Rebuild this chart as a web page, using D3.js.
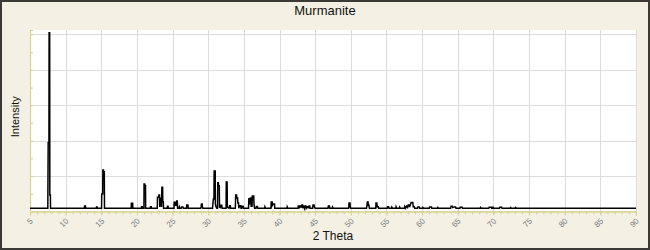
<!DOCTYPE html>
<html>
<head>
<meta charset="utf-8">
<script src="https://cdn.jsdelivr.net/npm/d3@7"></script>
<style>
  body { margin: 0; background: #fff; }
  svg { display: block; }
</style>
</head>
<body>
<div id="chart"></div>
<script>
// chart texts
const chartTitle = 'Murmanite';
const xTitle = '2 Theta';
const yTitle = 'Intensity';

// axis ticks
const xMajorTicks = [5, 10, 15, 20, 25, 30, 35, 40, 45, 50, 55, 60, 65, 70, 75, 80, 85, 90];
const yMajorTicks = [0, 20, 40, 60, 80, 100];
const yMinorTicks = [10, 30, 50, 70, 90];

// diffraction pattern: [2θ, intensity]
const pattern = [
  [5, 1.8], [7.5, 1.8], [7.55, 39], [7.66, 39], [7.68, 101], [7.76, 101], [7.78, 9.3], [7.86, 9.3], [7.88, 1.8],
  [12.62, 1.8], [12.66, 3.1], [12.78, 3.1], [12.8, 1.8],
  [14.3, 1.8], [14.33, 2.5], [14.42, 2.5], [14.44, 1.8],
  [15.04, 1.8], [15.06, 9.9], [15.2, 9.9], [15.22, 23.4], [15.3, 23.4], [15.32, 22.5], [15.42, 22.5], [15.45, 1.8],
  [19.2, 1.8], [19.22, 4.6], [19.4, 4.6], [19.42, 1.8],
  [20.62, 1.8], [20.65, 2.7], [20.75, 2.7], [20.78, 1.8],
  [20.98, 1.8], [21.0, 15.5], [21.1, 15.5], [21.12, 14.6], [21.2, 14.6], [21.22, 1.8],
  [21.85, 1.8], [21.9, 2.7], [22.0, 2.7], [22.03, 1.8],
  [22.85, 1.8], [22.88, 8], [23.05, 8], [23.08, 9.3], [23.17, 9.3], [23.2, 2.5], [23.3, 7.5], [23.38, 7.5], [23.45, 2.5],
  [23.5, 13.7], [23.6, 13.7], [23.63, 5.5], [23.7, 5.5], [23.73, 1.8],
  [24.25, 1.8], [24.28, 2.9], [24.36, 2.9], [24.38, 1.8],
  [25.2, 1.8], [25.22, 5.2], [25.38, 5.2], [25.4, 3.5], [25.5, 3.5], [25.58, 5.9], [25.66, 5.9], [25.7, 1.8],
  [25.9, 1.8], [25.95, 2.5], [26.0, 1.8], [26.2, 1.8], [26.25, 2.6], [26.45, 2.6], [26.5, 1.8],
  [26.95, 1.8], [26.98, 3.7], [27.15, 3.7], [27.18, 1.8],
  [28.95, 1.8], [29.0, 2.6], [29.05, 4.2], [29.15, 4.2], [29.18, 2.5], [29.25, 1.8],
  [30.6, 1.8], [30.65, 4.2], [30.72, 7.1], [30.8, 7.1], [30.83, 22.9], [30.98, 22.9], [31.0, 4.2], [31.1, 2.5], [31.2, 1.8],
  [31.3, 1.8], [31.34, 16.3], [31.42, 16.3], [31.45, 14.6], [31.55, 14.6], [31.58, 2.5], [31.7, 2.2], [31.78, 3.5], [31.9, 3.5], [31.95, 1.8],
  [32.5, 1.8], [32.53, 16.7], [32.65, 16.7], [32.68, 2.5], [32.9, 1.8], [33.0, 3.3], [33.1, 3.3], [33.15, 1.8],
  [33.8, 1.8], [33.85, 9.3], [33.98, 9.3], [34.0, 7.6], [34.12, 7.6], [34.15, 4.8], [34.25, 4.8], [34.28, 1.8],
  [34.4, 3.2], [34.55, 3.2], [34.6, 1.8], [34.7, 1.8], [34.75, 3], [34.9, 3], [34.95, 1.8],
  [35.65, 1.8], [35.7, 7.2], [35.82, 7.2], [35.85, 4], [35.9, 7.6], [35.98, 7.6], [36.02, 3], [36.15, 3], [36.18, 8.8], [36.38, 8.8], [36.42, 4.2], [36.5, 1.8],
  [36.7, 1.8], [36.75, 2.8], [36.9, 2.8], [36.95, 1.8],
  [37.9, 1.8], [37.95, 2.7], [38.05, 1.8],
  [38.8, 1.8], [38.83, 5.4], [38.98, 5.4], [39.0, 3.5], [39.1, 4.2], [39.3, 4.2], [39.33, 1.8],
  [41.05, 1.8], [41.08, 2.6], [41.16, 1.8],
  [42.6, 1.8], [42.63, 3.1], [42.75, 3.1], [42.78, 1.8], [42.92, 3.1], [43.0, 3.1], [43.05, 2.2], [43.12, 3.7], [43.22, 3.7], [43.25, 1.8],
  [43.35, 3.1], [43.45, 3.1], [43.5, 1.8], [43.62, 3.1], [43.72, 3.1], [43.75, 1.8], [43.9, 2.7], [44.0, 2.7], [44.05, 1.8], [44.14, 3.1], [44.24, 3.1], [44.28, 1.8],
  [44.65, 1.8], [44.7, 3.7], [44.85, 3.7], [44.9, 2.5], [45.0, 1.8],
  [46.8, 1.8], [46.85, 3.1], [47.0, 3.1], [47.05, 1.8], [47.4, 1.8], [47.44, 2.5], [47.52, 1.8],
  [49.7, 1.8], [49.75, 4.8], [49.88, 4.8], [49.92, 2.5], [50.0, 1.8],
  [52.2, 1.8], [52.25, 3.2], [52.32, 5.4], [52.42, 5.4], [52.45, 3.5], [52.55, 3.5], [52.6, 1.8],
  [53.5, 1.8], [53.53, 4.8], [53.65, 4.8], [53.7, 2.7], [53.85, 2.7], [53.9, 1.8],
  [55.1, 1.8], [55.15, 2.7], [55.3, 2.7], [55.35, 1.8], [55.7, 1.8], [55.75, 2.5], [55.85, 1.8],
  [56.3, 1.8], [56.35, 2.7], [56.45, 1.8], [56.8, 1.8], [56.85, 2.5], [56.95, 1.8],
  [57.5, 1.8], [57.55, 2.7], [57.65, 1.8], [57.8, 3.1], [57.9, 3.1], [57.95, 1.8], [58.05, 3.7], [58.2, 3.7], [58.25, 2.5],
  [58.45, 5.1], [58.7, 5.1], [58.75, 2.7], [58.9, 2.7], [58.95, 1.8],
  [59.35, 1.8], [59.4, 2.6], [59.6, 2.6], [59.65, 1.8], [60.05, 1.8], [60.1, 2.3], [60.2, 1.8],
  [61.0, 1.8], [61.05, 2.5], [61.3, 2.5], [61.35, 1.8], [62.15, 1.8], [62.2, 2.3], [62.3, 1.8],
  [64.0, 1.8], [64.05, 3.0], [64.25, 3.0], [64.3, 2.2], [64.55, 2.6], [64.7, 2.6], [64.75, 1.8],
  [65.3, 1.8], [65.35, 2.4], [65.6, 2.4], [65.65, 1.8],
  [68.15, 1.8], [68.2, 2.3], [68.3, 1.8],
  [69.35, 1.8], [69.4, 2.4], [69.7, 2.4], [69.75, 1.8], [69.9, 1.8], [69.95, 2.4], [70.05, 1.8],
  [70.85, 1.8], [70.9, 2.4], [71.15, 2.4], [71.2, 1.8],
  [72.35, 1.8], [72.4, 2.3], [72.55, 1.8], [73.05, 1.8], [73.1, 2.3], [73.25, 1.8],
  [90, 1.8]
];

const width = 650, height = 250;
const plot = { left: 30, right: 636, top: 30, bottom: 211.5 };

const svg = d3.select('#chart').append('svg')
  .attr('width', width)
  .attr('height', height)
  .style('font-family', '"Liberation Sans", Arial, sans-serif');

// outer frame
svg.append('rect')
  .attr('x', 1).attr('y', 1)
  .attr('width', width - 2).attr('height', height - 2)
  .attr('fill', '#f4f1e4')
  .attr('stroke', '#3c3a36')
  .attr('stroke-width', 2);

const x = d3.scaleLinear().domain([5, 90]).range([plot.left, plot.right]);
const y = d3.scaleLinear().domain([0, 102.5]).range([plot.bottom, plot.top]);

svg.append('rect')
  .attr('x', plot.left).attr('y', plot.top)
  .attr('width', plot.right - plot.left).attr('height', plot.bottom - plot.top)
  .attr('fill', '#fff');

// grid
const grid = svg.append('g').attr('stroke', '#dcdcdc').attr('stroke-width', 1);
grid.selectAll('line.v')
  .data(xMajorTicks.slice(1))
  .join('line')
  .attr('class', 'v')
  .attr('x1', d => Math.round(x(d)) + 0.5).attr('x2', d => Math.round(x(d)) + 0.5)
  .attr('y1', plot.top).attr('y2', plot.bottom);
grid.selectAll('line.h')
  .data(yMajorTicks.slice(1))
  .join('line')
  .attr('class', 'h')
  .attr('y1', d => Math.round(y(d)) + 0.5).attr('y2', d => Math.round(y(d)) + 0.5)
  .attr('x1', plot.left).attr('x2', plot.right);

// axes
const axisColor = '#d9d08f';
const xMinorTicks = d3.range(5, 91, 1);

const xMinorAxis = svg.append('g')
  .attr('transform', `translate(0,${plot.bottom})`)
  .call(d3.axisBottom(x).tickValues(xMinorTicks).tickSize(3).tickFormat(''));
const xAxis = svg.append('g')
  .attr('transform', `translate(0,${plot.bottom})`)
  .call(d3.axisBottom(x).tickValues(xMajorTicks).tickSize(4).tickFormat(d3.format('d')));
xAxis.selectAll('text')
  .attr('text-anchor', 'end')
  .attr('fill', '#7a7a7a')
  .attr('font-size', 8)
  .attr('dy', 0)
  .attr('y', 0)
  .attr('transform', 'translate(3,10) rotate(-45)');

const yMinorAxis = svg.append('g')
  .attr('transform', `translate(${plot.left},0)`)
  .call(d3.axisRight(y).tickValues(yMinorTicks).tickSize(3).tickFormat(''));
const yAxis = svg.append('g')
  .attr('transform', `translate(${plot.left},0)`)
  .call(d3.axisRight(y).tickValues(yMajorTicks).tickSize(3).tickFormat(''));

[xMinorAxis, xAxis, yMinorAxis, yAxis].forEach(a => {
  a.selectAll('.domain').attr('stroke', axisColor);
  a.selectAll('.tick line').attr('stroke', axisColor);
});

// pattern line
const line = d3.line()
  .x(d => x(d[0]))
  .y(d => y(d[1]));

svg.append('path')
  .datum(pattern)
  .attr('d', line)
  .attr('fill', 'none')
  .attr('stroke', '#000')
  .attr('stroke-width', 1.5)
  .attr('stroke-linejoin', 'miter');

// titles
svg.append('text')
  .attr('x', width / 2).attr('y', 15)
  .attr('text-anchor', 'middle')
  .attr('font-size', 13)
  .attr('fill', '#111')
  .text(chartTitle);

svg.append('text')
  .attr('x', (plot.left + plot.right) / 2).attr('y', 240)
  .attr('text-anchor', 'middle')
  .attr('font-size', 12)
  .attr('fill', '#111')
  .text(xTitle);

svg.append('text')
  .attr('transform', `translate(19,${(plot.top + plot.bottom) / 2 - 4}) rotate(-90)`)
  .attr('text-anchor', 'middle')
  .attr('font-size', 11)
  .attr('fill', '#111')
  .text(yTitle);
</script>
</body>
</html>
